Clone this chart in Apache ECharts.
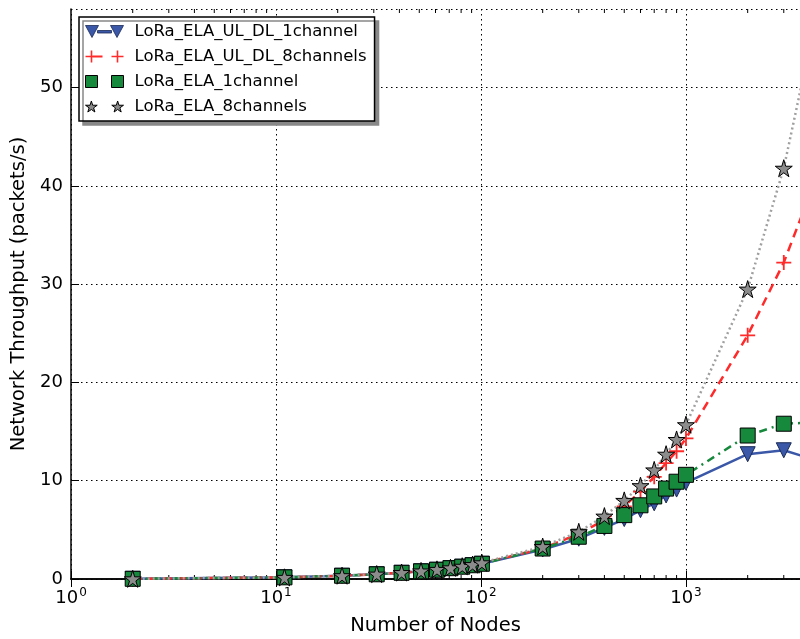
<!DOCTYPE html>
<html style="height: 100%">
<head>
  <meta charset="utf-8">
</head>
<body style="height: 100%; margin: 0; background: #fff">
  <div id="container" style="width: 800px; height: 639px"></div>
  <script type="text/javascript" src="https://cdn.jsdelivr.net/npm/echarts@6/dist/echarts.min.js"></script>
  <script type="text/javascript">
    var myChart = echarts.init(document.getElementById('container'));

    // number of nodes
    const nodes = [2, 11, 21, 31, 41, 51, 61, 71, 81, 91, 101, 200, 300, 400, 500, 600, 700, 800, 900, 1000, 2000, 3000, 4000];
    // throughput (packets/s)
    const ulDl1ch = [0.02, 0.17, 0.33, 0.48, 0.63, 0.78, 0.94, 1.1, 1.25, 1.4, 1.55, 3.0, 4.1, 5.2, 6.1, 7.0, 7.7, 8.5, 9.1, 9.8, 12.7, 13.1, 12.3];
    const ulDl8ch = [0.02, 0.17, 0.33, 0.49, 0.64, 0.8, 0.96, 1.12, 1.28, 1.44, 1.6, 3.1, 4.6, 6.0, 7.4, 8.9, 10.4, 11.8, 13.0, 14.3, 24.8, 32.2, 39];
    const ela1ch = [0.02, 0.17, 0.33, 0.48, 0.63, 0.78, 0.94, 1.1, 1.25, 1.4, 1.55, 3.1, 4.3, 5.4, 6.5, 7.5, 8.4, 9.2, 9.9, 10.6, 14.6, 15.8, 15.9];
    const ela8ch = [0.02, 0.17, 0.34, 0.5, 0.66, 0.82, 0.98, 1.14, 1.3, 1.47, 1.65, 3.3, 4.8, 6.4, 8.0, 9.5, 11.1, 12.7, 14.2, 15.7, 29.5, 41.8, 54];

    // minor ticks of the log axis
    const minorTicks = [2, 3, 4, 5, 6, 7, 8, 9, 20, 30, 40, 50, 60, 70, 80, 90, 200, 300, 400, 500, 600, 700, 800, 900, 2000, 3000];

    const FONT = 'DejaVu Sans';
    const starPath = 'path://M50,0 L61,35 L98,35 L68,57 L79,91 L50,70 L21,91 L32,57 L2,35 L39,35 Z';
    const plusPath = 'path://M4.4,0 h1.2 v4.4 h4.4 v1.2 h-4.4 v4.4 h-1.2 v-4.4 h-4.4 v-1.2 h4.4 z';

    // legend icons: marker, short line, marker (like the matplotlib legend)
    const legTri = 'path://M0,0 L13,0 L6.5,12 Z M12,5 H26 V7.5 H12 Z M25,0 L38,0 L31.5,12 Z';
    const legPlus = 'path://M5.2,0 h1.6 v5.2 h5.2 v1.6 h-5.2 v5.2 h-1.6 v-5.2 h-5.2 v-1.6 h5.2 z M7,4.9 h10 v2.2 h-10 z M31.2,0 h1.6 v5.2 h5.2 v1.6 h-5.2 v5.2 h-1.6 v-5.2 h-5.2 v-1.6 h5.2 z';
    const legRect = 'path://M0,0 H12 V12 H0 Z M26,0 H38 V12 H26 Z';
    const legStar = 'path://M6,0 L7.3,4.2 L11.8,4.2 L8.2,6.8 L9.5,10.9 L6,8.4 L2.5,10.9 L3.8,6.8 L0.2,4.2 L4.7,4.2 Z M32,0 L33.3,4.2 L37.8,4.2 L34.2,6.8 L35.5,10.9 L32,8.4 L28.5,10.9 L29.8,6.8 L26.2,4.2 L30.7,4.2 Z';

    function pairs(ys) {
      return nodes.map((x, i) => [x, ys[i]]);
    }

    const supLabel = {
      showMaxLabel: false,
      formatter: function (v) {
        const e = Math.round(Math.log10(v));
        return '{b|10}{s|' + e + '}';
      },
      rich: {
        b: { fontSize: 18, fontFamily: FONT, color: '#000' },
        s: { fontSize: 12, fontFamily: FONT, color: '#000', verticalAlign: 'bottom', padding: [0, 0, 10, 1] }
      }
    };

    const option = {
      animation: false,
      grid: { left: 71, right: 0, top: 9, bottom: 60, show: false, outerBoundsMode: 'none' },
      legend: {
        orient: 'vertical',
        left: 79,
        top: 17,
        padding: [6, 8, 6, 6],
        itemGap: 8,
        itemWidth: 38,
        itemHeight: 14,
        symbolRotate: 0,
        backgroundColor: '#fff',
        borderColor: '#000',
        borderWidth: 1.5,
        borderRadius: 0,
        shadowColor: '#888',
        shadowOffsetX: 4,
        shadowOffsetY: 4,
        shadowBlur: 0,
        textStyle: { fontFamily: FONT, fontSize: 16.5, lineHeight: 14, color: '#000', padding: [0, 0, 0, 6] },
        data: [
          { name: 'LoRa_ELA_UL_DL_1channel', icon: legTri, itemStyle: { color: '#3b58a8', borderColor: '#1a2a55', borderWidth: 0.8 } },
          { name: 'LoRa_ELA_UL_DL_8channels', icon: legPlus, itemStyle: { color: '#ff2b2b', borderWidth: 0 } },
          { name: 'LoRa_ELA_1channel', icon: legRect, itemStyle: { color: '#17893d', borderColor: '#000', borderWidth: 1 } },
          { name: 'LoRa_ELA_8channels', icon: legStar, itemStyle: { color: '#8c8c8c', borderColor: '#000', borderWidth: 1 } }
        ]
      },
      xAxis: [
        {
          type: 'log',
          logBase: 10,
          min: 1,
          max: 3600,
          interval: 1,
          name: 'Number of Nodes',
          nameLocation: 'middle',
          nameGap: 37,
          nameTextStyle: { fontFamily: FONT, fontSize: 19.5, color: '#000' },
          axisLine: { onZero: false, lineStyle: { color: '#000', width: 1.5 } },
          axisTick: { inside: true, length: 8, lineStyle: { color: '#000' } },
          axisLabel: Object.assign({ margin: 8 }, supLabel),
          splitLine: { show: true, lineStyle: { color: '#000', type: [1.5, 3.5], width: 1 } }
        },
        {
          type: 'log',
          logBase: 10,
          min: 1,
          max: 3600,
          interval: 1,
          position: 'top',
          axisLine: { show: true, lineStyle: { color: '#000', width: 1.5 } },
          axisTick: { inside: true, length: 8, lineStyle: { color: '#000' } },
          axisLabel: { show: false },
          splitLine: { show: false }
        }
      ],
      yAxis: {
        type: 'value',
        min: 0,
        max: 58,
        interval: 10,
        name: 'Network Throughput (packets/s)',
        nameLocation: 'middle',
        nameGap: 42,
        nameTextStyle: { fontFamily: FONT, fontSize: 19.5, color: '#000' },
        axisLine: { show: true, lineStyle: { color: '#000', width: 1.5 } },
        axisTick: { show: true, inside: true, length: 8, lineStyle: { color: '#000' } },
        axisLabel: { fontFamily: FONT, fontSize: 18, color: '#000', margin: 8, showMaxLabel: false },
        splitLine: { show: true, lineStyle: { color: '#000', type: [1.5, 3.5], width: 1 } }
      },
      series: [
        {
          name: 'LoRa_ELA_UL_DL_1channel',
          type: 'line',
          data: pairs(ulDl1ch),
          symbol: 'triangle',
          symbolRotate: 180,
          symbolSize: 15,
          clip: true,
          lineStyle: { color: '#3b58a8', width: 2.5 },
          itemStyle: { color: '#3b58a8', borderColor: '#1a2a55', borderWidth: 1 }
        },
        {
          name: 'LoRa_ELA_UL_DL_8channels',
          type: 'line',
          data: pairs(ulDl8ch),
          symbol: plusPath,
          symbolSize: 15,
          clip: true,
          lineStyle: { color: '#ff2b2b', width: 2.5, type: [9, 6] },
          itemStyle: { color: '#ff2b2b', borderWidth: 0 }
        },
        {
          name: 'LoRa_ELA_1channel',
          type: 'line',
          data: pairs(ela1ch),
          symbol: 'rect',
          symbolSize: 15,
          clip: true,
          lineStyle: { color: '#17893d', width: 2.5, type: [8, 5, 2, 5] },
          itemStyle: { color: '#17893d', borderColor: '#000', borderWidth: 1 }
        },
        {
          name: 'LoRa_ELA_8channels',
          type: 'line',
          data: pairs(ela8ch),
          symbol: starPath,
          symbolSize: 17,
          clip: true,
          lineStyle: { color: '#a0a0a0', width: 2.5, type: [2, 3] },
          itemStyle: { color: '#8c8c8c', borderColor: '#000', borderWidth: 1 }
        },
        {
          // minor ticks on bottom and top spines
          type: 'custom',
          silent: true,
          data: minorTicks.map(v => [v]),
          encode: { x: 0 },
          clip: false,
          renderItem: function (params, api) {
            const p = api.coord([api.value(0), 0]);
            const top = params.coordSys.y;
            const bottom = params.coordSys.y + params.coordSys.height;
            return {
              type: 'group',
              children: [
                { type: 'line', shape: { x1: p[0], y1: bottom, x2: p[0], y2: bottom - 4 }, style: { stroke: '#000', lineWidth: 1 } },
                { type: 'line', shape: { x1: p[0], y1: top, x2: p[0], y2: top + 4 }, style: { stroke: '#000', lineWidth: 1 } }
              ]
            };
          }
        }
      ]
    };

    myChart.setOption(option);
    window.addEventListener('resize', myChart.resize);
  </script>
</body>
</html>
